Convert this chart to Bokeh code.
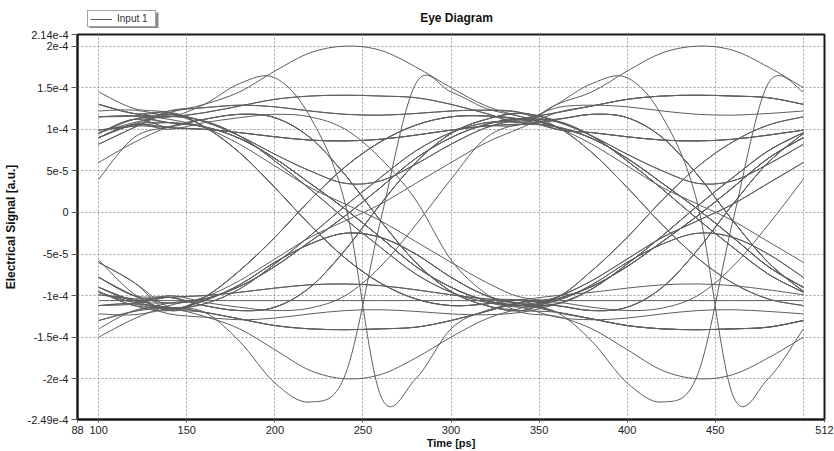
import numpy as np
from bokeh.plotting import figure
from bokeh.layouts import column
from bokeh.models import (ColumnDataSource, FixedTicker, CustomJSTickFormatter,
                          Legend, LegendItem, Range1d, Label, BoxAnnotation)
from bokeh.embed import file_html
from bokeh.resources import INLINE

# ---------------- data (values in units of 1e-5 a.u.) ----------------
# sample instants across one bit period, offsets 0..200 ps from an eye centre
SEG_OFFSETS_PS = [0, 20, 40, 60, 80, 100, 120, 140, 160, 180, 200]
EYE_CENTRE_PS = 140
UNIT = 1e-5

HH_BIG = [12.0, 13.0, 14.5, 17.0, 19.2, 20.0, 19.5, 17.5, 15.0, 12.8, 11.5]
HH_MID = [11.5, 12.0, 12.8, 13.6, 14.0, 14.1, 14.0, 13.8, 13.0, 11.9, 10.8]
HH_MID2 = [12.2, 12.6, 12.9, 12.7, 12.2, 11.8, 11.7, 11.9, 12.2, 12.3, 12.0]
HH_LOW = [10.2, 10.0, 9.6, 9.1, 8.7, 8.6, 8.8, 9.3, 9.9, 10.4, 10.6]
HH_DIP = [11.8, 10.9, 9.2, 7.0, 5.0, 3.5, 3.8, 5.8, 8.2, 10.2, 11.2]
HL_STD = [10.8, 10.3, 8.9, 6.5, 3.5, 0.4, -3.0, -6.5, -9.0, -10.6, -11.2]
HL_STD2 = [11.6, 11.0, 9.2, 6.2, 2.8, -0.8, -4.2, -7.4, -9.6, -10.8, -11.4]
HL_EARLY = [12.0, 10.3, 7.2, 3.0, -1.5, -5.5, -8.5, -10.4, -11.2, -11.0, -10.5]
HL_LATE = [10.3, 11.2, 11.8, 11.4, 9.0, 4.5, -1.0, -6.0, -9.5, -11.2, -11.8]
HL_SLOW = [11.2, 10.2, 8.2, 5.6, 3.0, 1.0, -1.0, -3.5, -6.0, -8.4, -10.2]
HL_SPIKE = [11.5, 13.0, 15.5, 16.2, 11.5, 1.0, -22.0, -20.0, -14.0, -11.8, -11.0]
HL_VLATE = [10.0, 10.8, 11.4, 11.8, 11.5, 10.0, 6.5, 1.5, -5.7, -9.8, -12.0]
LH_STD = [-10.9, -10.4, -8.9, -6.5, -3.5, -0.4, 3.0, 6.5, 9.0, 10.6, 11.3]
LH_STD2 = [-11.6, -11.0, -9.2, -6.2, -2.8, 0.8, 4.2, 7.4, 9.6, 10.8, 11.0]
LH_EARLY = [-11.8, -10.2, -7.0, -3.0, 1.5, 5.5, 8.5, 10.5, 11.5, 11.6, 11.2]
LH_LATE = [-10.2, -11.2, -11.8, -11.4, -9.0, -4.5, 1.0, 6.0, 9.5, 11.2, 11.9]
LH_SLOW = [-11.2, -10.2, -8.2, -5.6, -3.0, -1.0, 1.0, 3.5, 6.0, 8.4, 10.2]
LH_SPIKE = [-11.5, -12.0, -15.5, -20.5, -22.8, -19.5, -1.0, 15.5, 14.5, 12.5, 11.5]
LH_VLATE = [-10.0, -10.8, -11.4, -11.8, -11.5, -10.0, -6.5, -1.5, 4.0, 9.0, 10.6]
LL_CONST = [-10.6, -10.6, -10.6, -10.6, -10.6, -10.6, -10.6, -10.6, -10.6, -10.6, -10.6]
LL_BIG = [-11.5, -12.5, -14.0, -16.5, -19.0, -20.0, -19.5, -17.5, -15.0, -12.8, -11.5]
LL_MID = [-11.4, -12.0, -12.8, -13.6, -14.0, -14.1, -14.0, -13.8, -13.0, -11.9, -10.8]
LL_MID2 = [-12.2, -12.6, -12.9, -12.7, -12.2, -11.8, -11.7, -11.9, -12.2, -12.3, -12.0]
LL_LOW = [-10.2, -10.0, -9.6, -9.1, -8.7, -8.6, -8.8, -9.3, -9.9, -10.4, -10.6]
LL_HUMP = [-11.6, -10.6, -8.7, -6.0, -3.8, -2.5, -3.0, -5.0, -7.8, -10.0, -11.0]

# each trace: (previous bit period tail, first period, second period head)
TRACES = [
    (LH_STD, HH_BIG, HL_STD), (HH_MID, HL_SPIKE, LL_MID), (LH_LATE, HH_MID, HH_BIG),
    (HH_LOW, HH_DIP, HL_EARLY), (LH_EARLY, HL_STD, LH_STD), (LH_STD, HL_STD, LL_HUMP),
    (HH_DIP, HL_EARLY, LH_LATE), (LH_VLATE, HL_LATE, LL_MID), (LH_STD, HH_LOW, HL_SPIKE),
    (HH_MID, HH_MID, HL_LATE), (LH_EARLY, HL_SLOW, LH_EARLY), (LH_LATE, HH_LOW, HH_DIP),
    (LH_SPIKE, HL_EARLY, LL_LOW), (LH_STD, HL_LATE, LH_STD), (HH_LOW, HH_LOW, HL_STD),
    (LH_LATE, HH_DIP, HH_MID), (HH_LOW, HL_STD, LH_SPIKE), (LH_STD, HL_VLATE, LL_BIG),
    (LL_CONST, LL_CONST, LL_CONST), (HL_STD, LH_STD, HH_MID), (LL_MID, LH_SPIKE, HL_STD),
    (HL_LATE, LL_BIG, LH_STD), (LL_HUMP, LH_EARLY, HH_LOW), (HL_STD, LH_LATE, HL_EARLY),
    (HL_EARLY, LL_MID, LL_HUMP), (HL_VLATE, LL_HUMP, LH_LATE), (LL_MID, LH_STD, HL_LATE),
    (HL_SPIKE, LL_MID, LH_EARLY), (HL_STD, LL_HUMP, LL_MID), (LL_BIG, LH_SLOW, HH_MID),
    (HL_EARLY, LH_VLATE, HL_STD), (LL_LOW, LL_LOW, LH_STD), (HL_LATE, LH_EARLY, HH_LOW),
    (LL_HUMP, LH_STD, HL_SLOW), (HL_SLOW, LL_MID, LH_VLATE), (HL_STD, LH_LATE, HH_DIP),
    (LH_STD2, HL_STD2, LH_STD2), (HL_STD2, LH_STD2, HL_STD2), (LH_EARLY, HH_MID2, HL_STD2),
    (HL_EARLY, LL_MID2, LH_STD2), (HH_MID2, HL_STD2, LL_MID2), (LL_MID2, LH_STD2, HH_MID2),
    (LH_SLOW, HL_LATE, LH_SLOW), (HL_SLOW, LH_EARLY, HL_LATE),
    (LH_LATE, HL_STD, LH_LATE), (HH_DIP, HH_MID2, HH_LOW), (LL_LOW, LL_HUMP, LH_SLOW),
    (HL_STD2, LL_LOW, LL_MID), (LL_HUMP, LH_LATE, HL_STD2), (HH_MID, HL_EARLY, LH_STD2),
]

X_TICKS = [88, 100, 150, 200, 250, 300, 350, 400, 450, 512]
X_GRID = [100, 150, 200, 250, 300, 350, 400, 450, 500]
Y_TICKS = [-2.49e-4, -2e-4, -1.5e-4, -1e-4, -5e-5, 0, 5e-5, 1e-4, 1.5e-4, 2e-4, 2.14e-4]
Y_LABELS = ["-2.49e-4", "-2e-4", "-1.5e-4", "-1e-4", "-5e-5", "0", "5e-5",
            "1e-4", "1.5e-4", "2e-4", "2.14e-4"]
Y_GRID = [-2e-4, -1.5e-4, -1e-4, -5e-5, 0, 5e-5, 1e-4, 1.5e-4, 2e-4]

# ---------------- build traces (smooth Bezier through the read samples) ----------------
period = SEG_OFFSETS_PS[-1]
seg_t = np.array(SEG_OFFSETS_PS, dtype=float)
t_prev = EYE_CENTRE_PS - period + seg_t[8:10]
t_s1 = EYE_CENTRE_PS + seg_t
t_s2 = EYE_CENTRE_PS + period + seg_t[1:9]
t_all = np.concatenate([t_prev, t_s1, t_s2])

cols = {k: [] for k in ("x0", "y0", "x1", "y1", "cx0", "cy0", "cx1", "cy1")}
for prev, s1, s2 in TRACES:
    v = np.concatenate([np.array(prev[8:10]), np.array(s1), np.array(s2[1:9])]) * UNIT
    n = len(v)
    for i in range(n - 1):
        im1 = max(i - 1, 0)
        ip2 = min(i + 2, n - 1)
        cols["x0"].append(t_all[i]); cols["y0"].append(v[i])
        cols["x1"].append(t_all[i + 1]); cols["y1"].append(v[i + 1])
        cols["cx0"].append(t_all[i] + (t_all[i + 1] - t_all[im1]) / 6)
        cols["cy0"].append(v[i] + (v[i + 1] - v[im1]) / 6)
        cols["cx1"].append(t_all[i + 1] - (t_all[ip2] - t_all[i]) / 6)
        cols["cy1"].append(v[i + 1] - (v[ip2] - v[i]) / 6)
src = ColumnDataSource(cols)

FONT = "Liberation Sans"
LINE_COLOR = "#5e5e5e"
FRAME_LEFT = 76  # the column layout aligns the header strip's frame with the plot frame

# ---------------- header strip: title + legend ----------------
top = figure(width=834, height=28, output_backend="svg", toolbar_location=None,
             x_axis_type=None, y_axis_type=None, x_range=Range1d(0, 1), y_range=Range1d(0, 1),
             min_border=0, outline_line_color=None)
# legend sample glyph: same traces, lying outside this strip's (0..1) range so only the key shows
key = top.line(x="x0", y="y0", source=src, line_color=LINE_COLOR, line_width=1)
top.add_layout(Label(x=455 - FRAME_LEFT, y=11, x_units="screen", y_units="screen",
                     text="Eye Diagram",
                     text_font=FONT, text_font_size="12px", text_font_style="bold",
                     text_color="#111111", text_align="center", text_baseline="middle"))
# drop shadow behind the legend box
top.add_layout(BoxAnnotation(left=12, right=81, bottom=-1, top=16,
                             left_units="screen", right_units="screen",
                             bottom_units="screen", top_units="screen",
                             fill_color="#8a8a8a", fill_alpha=1, line_color=None))
legend = Legend(items=[LegendItem(label="Input 1", renderers=[key])],
                location=(86 - FRAME_LEFT, 1), orientation="vertical",
                border_line_color="#444444", border_line_width=1,
                background_fill_color="white", background_fill_alpha=1,
                label_text_font=FONT, label_text_font_size="10px", label_text_color="#333333",
                glyph_width=22, glyph_height=10, label_height=10, label_width=36,
                label_standoff=5, padding=2, margin=0, spacing=0)
top.add_layout(legend, "center")

# ---------------- main plot ----------------
p = figure(width=834, height=423, output_backend="svg", toolbar_location=None,
           x_range=Range1d(88, 512), y_range=Range1d(-2.49e-4, 2.14e-4),
           min_border_left=FRAME_LEFT, min_border_right=10, min_border_top=6, min_border_bottom=32)

r = p.bezier(x0="x0", y0="y0", x1="x1", y1="y1", cx0="cx0", cy0="cy0", cx1="cx1", cy1="cy1",
             source=src, line_color=LINE_COLOR, line_width=1)

p.outline_line_color = "#1a1a1a"
p.outline_line_width = 2
p.background_fill_color = "white"
p.border_fill_color = "white"

p.xgrid.ticker = FixedTicker(ticks=X_GRID)
p.ygrid.ticker = FixedTicker(ticks=Y_GRID)
for g in (p.xgrid, p.ygrid):
    g.grid_line_color = "#a0a0a0"
    g.grid_line_dash = "2 2"
    g.grid_line_width = 1

p.xaxis.ticker = FixedTicker(ticks=X_TICKS)
p.yaxis.ticker = FixedTicker(ticks=Y_TICKS)
p.yaxis.formatter = CustomJSTickFormatter(args=dict(labels=Y_LABELS), code="return labels[index];")
p.xaxis.axis_label = "Time [ps]"
p.yaxis.axis_label = "Electrical Signal [a.u.]"
for ax in (p.xaxis, p.yaxis):
    ax.axis_line_color = "#1a1a1a"
    ax.axis_line_width = 2
    ax.major_tick_in = 0
    ax.minor_tick_line_color = None
    ax.major_tick_line_color = "#555555"
    ax.major_label_text_font = FONT
    ax.major_label_text_font_size = "11px"
    ax.major_label_text_color = "#222222"
    ax.axis_label_text_font = FONT
    ax.axis_label_text_font_style = "bold"
    ax.axis_label_text_color = "#111111"
p.xaxis.axis_label_text_font_size = "11px"
p.yaxis.axis_label_text_font_size = "12px"
p.xaxis.major_tick_out = 3
p.xaxis.major_label_standoff = 3
p.xaxis.axis_label_standoff = 0
p.yaxis.major_tick_out = 6
p.yaxis.major_label_standoff = 3
p.yaxis.axis_label_standoff = 7

layout = column(top, p, spacing=0)
open("out.html", "w").write(file_html(layout, INLINE))
